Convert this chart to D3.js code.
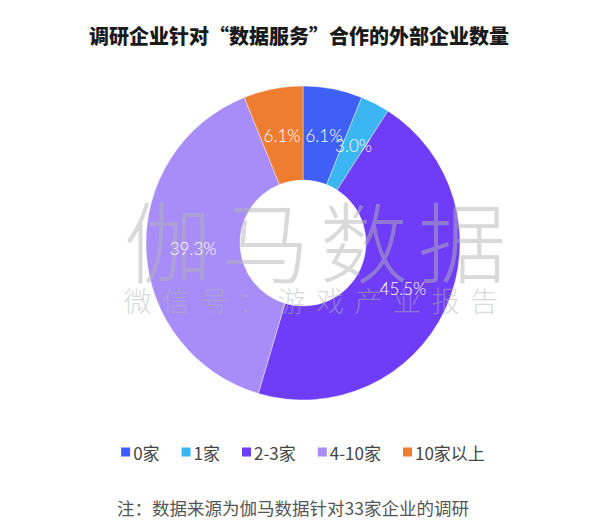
<!DOCTYPE html>
<html><head><meta charset="utf-8">
<script src="https://cdn.jsdelivr.net/npm/d3@7"></script>
<style>body{margin:0;background:#fff}svg{display:block}</style>
</head><body>
<svg id="c" width="600" height="530"></svg>
<script>
const categories = ["0家", "1家", "2-3家", "4-10家", "10家以上"];
const values = [6.1, 3.0, 45.5, 39.3, 6.1];
const valueLabels = ["6.1%", "3.0%", "45.5%", "39.3%", "6.1%"];
const colors = ["#3f5ff6", "#3cb6f3", "#6f3cf7", "#a88cf8", "#ee7d32"];
const titleText = "调研企业针对“数据服务”合作的外部企业数量";
const noteText = "注：数据来源为伽马数据针对33家企业的调研";
const watermark1 = "伽马数据";
const watermark2 = "微信号：游戏产业报告";

const svg = d3.select("#c");
const cx = 303, cy = 243, rOuter = 157, rInner = 63;
const cjk = "'Noto Sans CJK SC', 'Noto Sans', sans-serif";

svg.append("text").attr("x", 299).attr("y", 35)
  .attr("text-anchor", "middle").attr("dominant-baseline", "central")
  .attr("font-family", cjk).attr("font-weight", 900).attr("font-size", 20)
  .attr("fill", "#1a1a1a").text(titleText);

const pie = d3.pie().sort(null).value(d => d)(values);
const arc = d3.arc().innerRadius(rInner).outerRadius(rOuter);
const gSlices = svg.append("g").attr("transform", `translate(${cx},${cy})`);
gSlices.selectAll("path").data(pie).join("path")
  .attr("d", arc).attr("fill", (d, i) => colors[i])
  .attr("stroke", "#fff").attr("stroke-width", 0.4);

// watermark (over slices, under labels)
svg.append("text").attr("x", 320).attr("y", 237)
  .attr("text-anchor", "middle").attr("dominant-baseline", "central")
  .attr("font-family", cjk).attr("font-weight", 300).attr("font-size", 88)
  .attr("letter-spacing", 10).attr("fill", "rgba(180,180,180,0.5)").text(watermark1);
svg.append("text").attr("x", 316).attr("y", 300)
  .attr("text-anchor", "middle").attr("dominant-baseline", "central")
  .attr("font-family", cjk).attr("font-weight", 300).attr("font-size", 28)
  .attr("letter-spacing", 10.5).attr("fill", "rgba(180,180,180,0.5)").text(watermark2);

const gLabels = svg.append("g").attr("transform", `translate(${cx},${cy})`);
gLabels.selectAll("text").data(pie).join("text")
  .attr("transform", d => `translate(${arc.centroid(d)})`)
  .attr("text-anchor", "middle").attr("dominant-baseline", "central")
  .attr("font-family", "Lato, 'Noto Sans', sans-serif").attr("font-weight", 300)
  .attr("font-size", 17).attr("fill", "#fff")
  .text((d, i) => valueLabels[i]);

// legend
const leg = svg.append("g");
const items = leg.selectAll("g").data(categories).join("g");
items.append("rect").attr("width", 9).attr("height", 9).attr("y", -4.5)
  .attr("fill", (d, i) => colors[i]);
items.append("text").attr("x", 12).attr("dominant-baseline", "central")
  .attr("font-family", cjk).attr("font-size", 17).attr("fill", "#444")
  .text(d => d);
let x = 0;
const gap = 22;
items.each(function() {
  const w = this.getBBox().width;
  d3.select(this).attr("transform", `translate(${x},0)`);
  x += w + gap;
});
const total = x - gap;
leg.attr("transform", `translate(${303 - total / 2},452)`);

svg.append("text").attr("x", 293).attr("y", 507)
  .attr("text-anchor", "middle").attr("dominant-baseline", "central")
  .attr("font-family", cjk).attr("font-size", 17.5).attr("fill", "#555")
  .text(noteText);
</script>
</body></html>
